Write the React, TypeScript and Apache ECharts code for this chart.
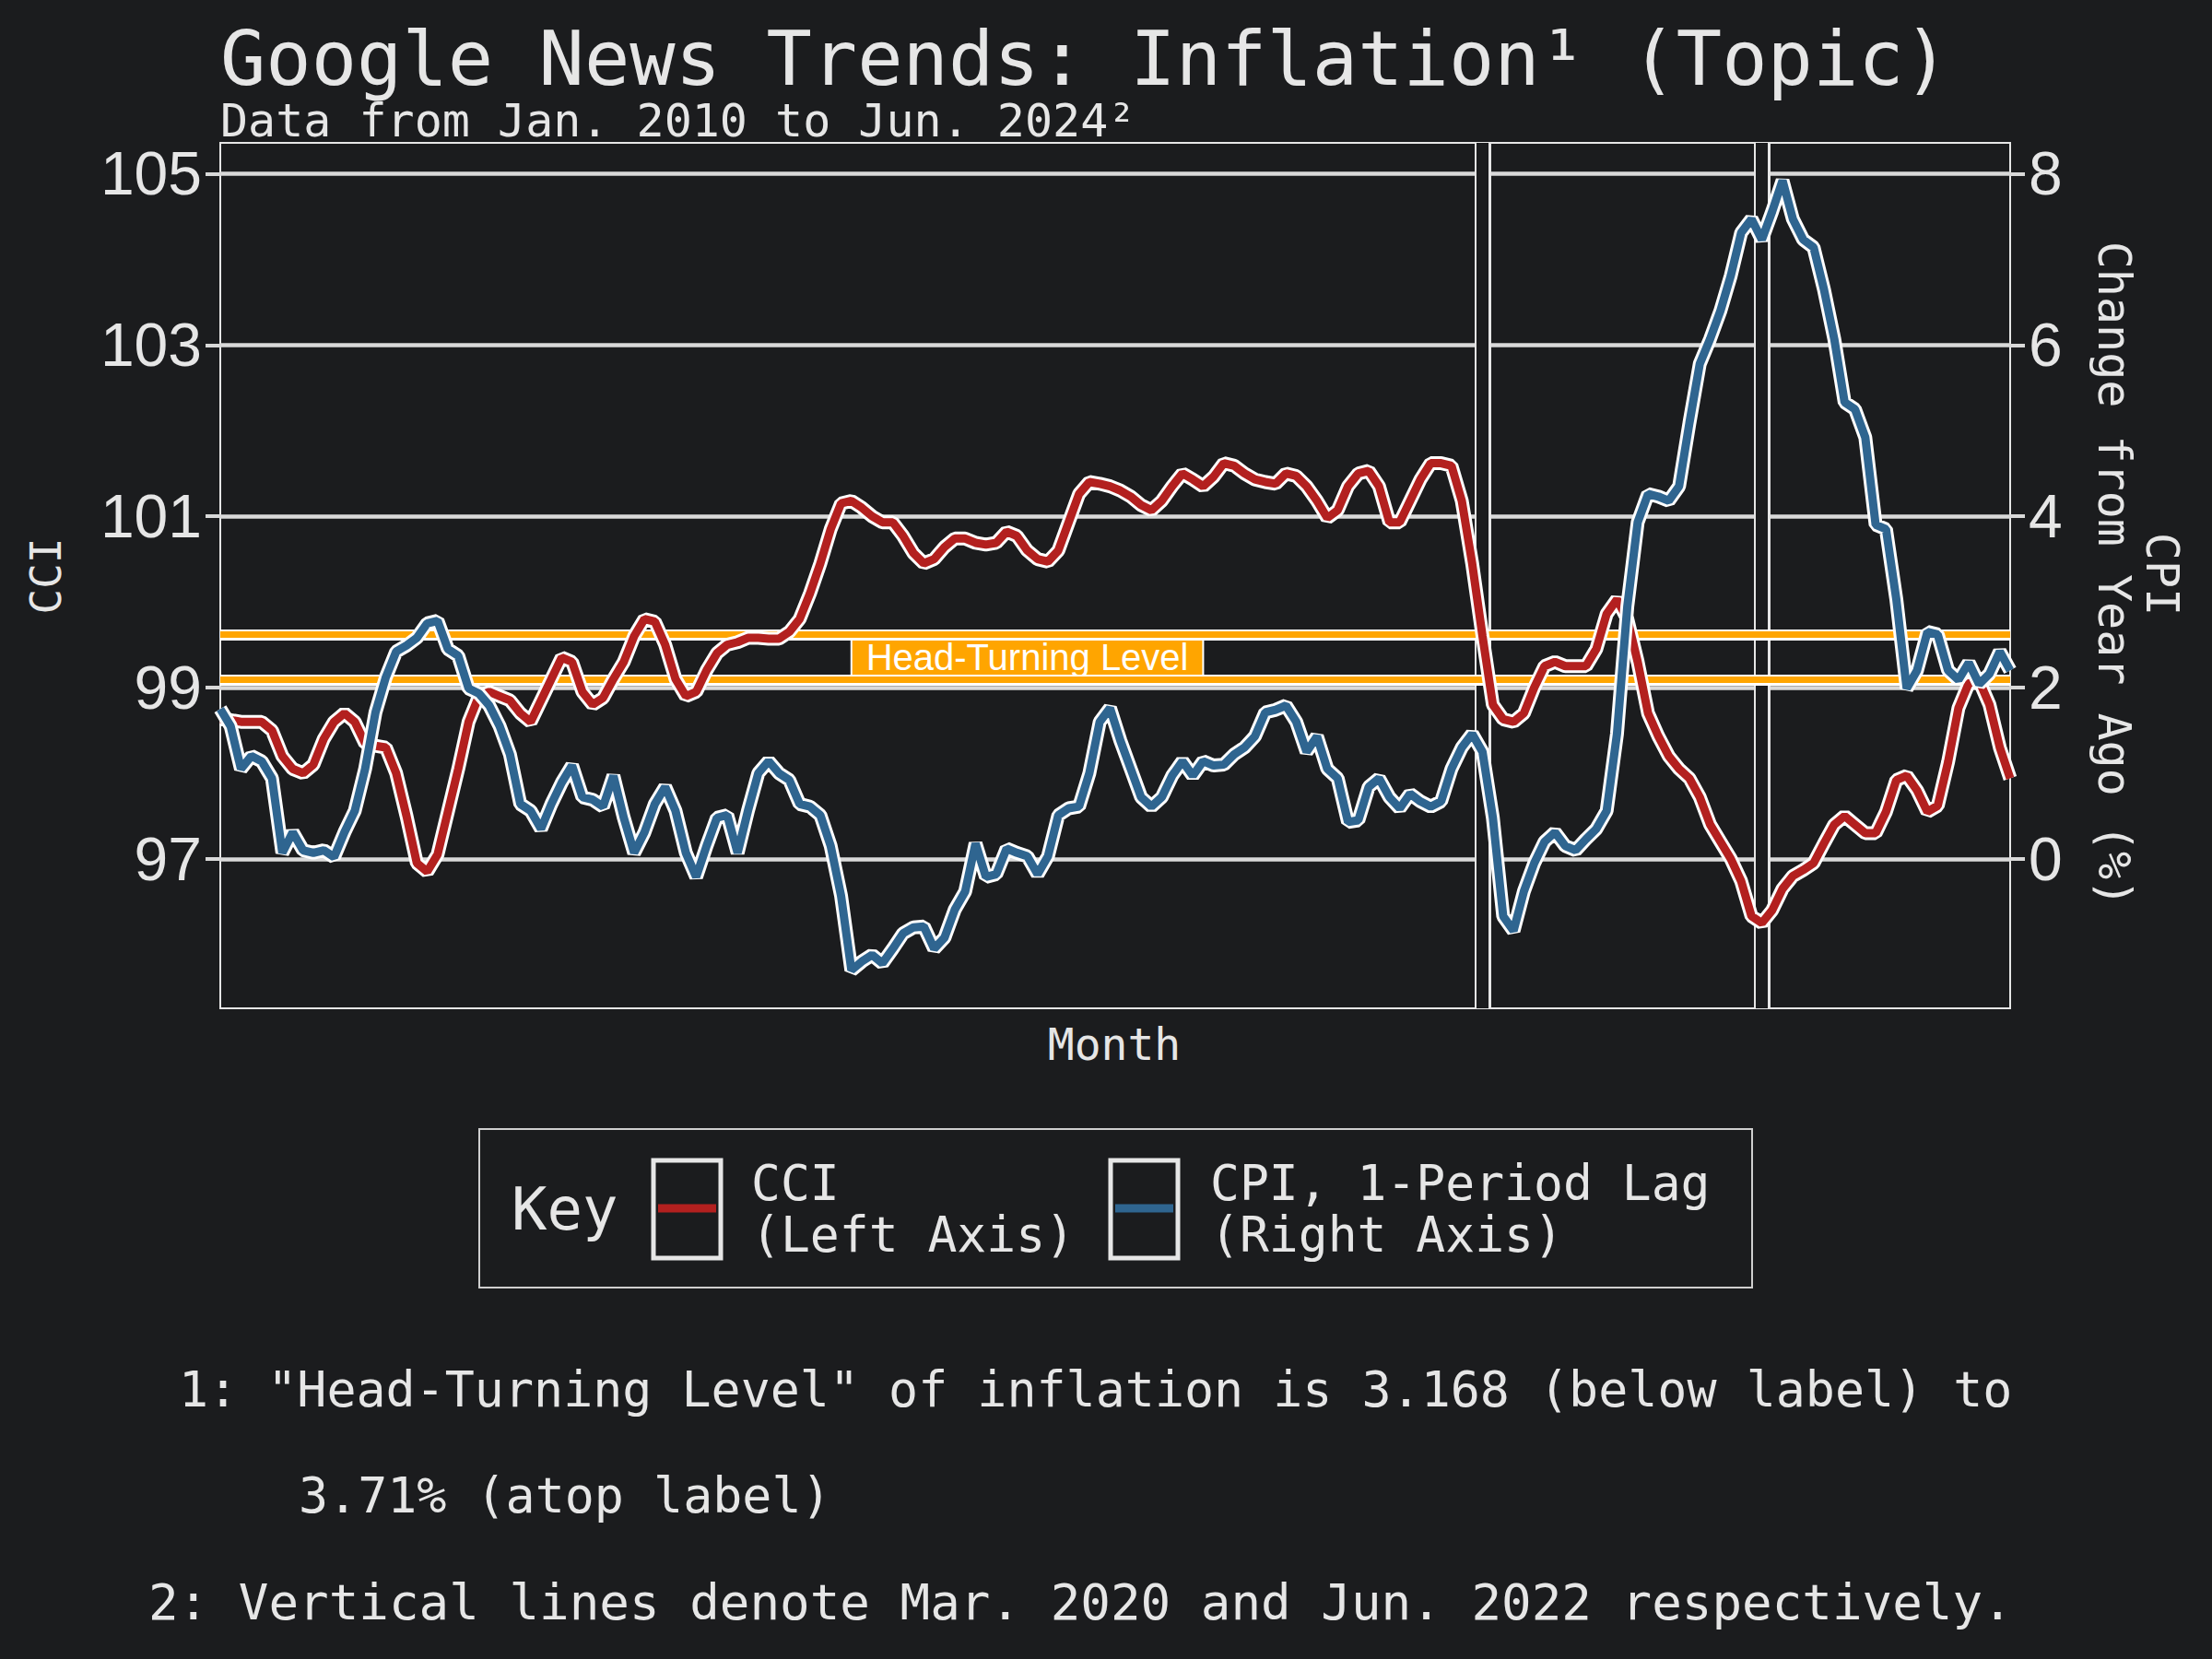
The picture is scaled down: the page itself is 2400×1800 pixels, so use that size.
import * as echarts from "echarts"
import { useEffect, useRef } from "react"

// Monthly, Jan 2010 .. Jun 2024
const months: string[] = []
for (let y = 2010; y <= 2024; y++) {
  for (let m = 1; m <= 12; m++) {
    if (y === 2024 && m > 6) break
    months.push(`${y}-${String(m).padStart(2, "0")}`)
  }
}

const cci = [
  98.63, 98.62, 98.6, 98.6, 98.6, 98.5, 98.2, 98.05, 98.0, 98.1, 98.4, 98.6,
  98.7, 98.6, 98.35, 98.32, 98.3, 98.0, 97.5, 96.95, 96.85, 97.05, 97.55, 98.05,
  98.6, 98.9, 98.95, 98.9, 98.85, 98.7, 98.6, 98.85, 99.1, 99.35, 99.3, 98.95,
  98.8, 98.88, 99.1, 99.3, 99.6, 99.8, 99.77, 99.5, 99.1, 98.9, 98.95, 99.2,
  99.4, 99.5, 99.53, 99.58, 99.58, 99.57, 99.57, 99.65, 99.8, 100.1, 100.45, 100.85,
  101.15, 101.18, 101.1, 101.0, 100.93, 100.93, 100.77, 100.57, 100.45, 100.5, 100.64, 100.74,
  100.74, 100.69, 100.67, 100.69, 100.82, 100.77, 100.6, 100.5, 100.47, 100.6, 100.93, 101.26,
  101.4, 101.38, 101.35, 101.3, 101.23, 101.13, 101.07, 101.18, 101.35, 101.5, 101.43, 101.35,
  101.46, 101.62, 101.59, 101.5, 101.43, 101.4, 101.38, 101.5, 101.47, 101.35, 101.18, 100.98,
  101.07, 101.35, 101.5, 101.53, 101.35, 100.93, 100.93, 101.18, 101.43, 101.62, 101.62, 101.59,
  101.18, 100.45, 99.6, 98.8, 98.63, 98.6, 98.7, 99.0, 99.25, 99.3, 99.25, 99.25,
  99.25, 99.45, 99.86, 100.03, 99.8, 99.3, 98.7, 98.43, 98.2, 98.05, 97.94, 97.72,
  97.4, 97.2, 97.0, 96.74, 96.33, 96.25, 96.4, 96.65, 96.8, 96.87, 96.95, 97.18,
  97.4, 97.5, 97.4, 97.3, 97.3, 97.55, 97.92, 97.97, 97.8, 97.55, 97.62, 98.13,
  98.76, 99.05, 99.08, 98.8, 98.3, 97.94,
]

const cpiLag = [
  1.75, 1.55, 1.05, 1.2, 1.14, 0.94, 0.07, 0.31, 0.1, 0.07, 0.1, 0.02,
  0.31, 0.56, 1.05, 1.71, 2.12, 2.42, 2.49, 2.58, 2.75, 2.78, 2.45, 2.37,
  1.99, 1.93, 1.79, 1.55, 1.22, 0.64, 0.56, 0.35, 0.64, 0.89, 1.09, 0.72,
  0.69, 0.61, 0.97, 0.48, 0.07, 0.31, 0.64, 0.84, 0.56, 0.07, -0.21, 0.15,
  0.48, 0.51, 0.07, 0.56, 1.0, 1.14, 1.0, 0.92, 0.64, 0.61, 0.51, 0.15,
  -0.43, -1.3, -1.2, -1.12, -1.22, -1.05, -0.87, -0.8, -0.79, -1.05, -0.92, -0.59,
  -0.38, 0.18, -0.21, -0.18, 0.12, 0.07, 0.03, -0.18, 0.03, 0.51, 0.59, 0.61,
  1.0, 1.6, 1.76, 1.38, 1.05, 0.72, 0.61, 0.72, 0.97, 1.14, 0.97, 1.14,
  1.09, 1.1, 1.22, 1.3, 1.43, 1.71, 1.74, 1.79, 1.6, 1.25, 1.43, 1.05,
  0.94, 0.43, 0.45, 0.84, 0.94, 0.72, 0.59, 0.76, 0.67, 0.61, 0.67, 1.05,
  1.3, 1.46, 1.25, 0.48, -0.67, -0.84, -0.38, -0.05, 0.2, 0.31, 0.15, 0.1,
  0.23, 0.35, 0.56, 1.46, 2.95, 3.93, 4.26, 4.23, 4.18, 4.35, 5.09, 5.78,
  6.07, 6.4, 6.81, 7.31, 7.47, 7.23, 7.56, 7.92, 7.47, 7.23, 7.14, 6.65,
  6.07, 5.33, 5.25, 4.92, 3.9, 3.85, 3.03, 1.99, 2.2, 2.65, 2.62, 2.2,
  2.09, 2.29, 2.04, 2.16, 2.42, 2.2,
]

const cciTicks = [97, 99, 101, 103, 105]
const cpiTicks = [0, 2, 4, 6, 8]
const bandLow = 99.09
const bandHigh = 99.62
const eventMonths = ["2020-03", "2022-06"]
const bandLabelFrom = "2015-02"
const bandLabelTo = "2017-12"

const BG = "#1b1c1e"
const FG = "#e6e6e6"
const MONO = "'DejaVu Sans Mono', monospace"
const SANS = "'Liberation Sans', Arial, sans-serif"
const RED = "#b3201f"
const BLUE = "#2f6590"
const ORANGE = "#ffa500"

const lineMark = (data: any[], color: string, width: number) => ({
  silent: true,
  symbol: "none",
  label: { show: false },
  lineStyle: { color, width, type: "solid" },
  data,
})

export default function App() {
  const ref = useRef<HTMLDivElement>(null)

  useEffect(() => {
    document.body.style.margin = "0"
    if (!ref.current) return
    const chart = echarts.init(ref.current, undefined, { renderer: "svg" })

    const empty = (z: number, markLine: any, extra: any = {}) => ({
      type: "line",
      data: [],
      z,
      silent: true,
      markLine,
      ...extra,
    })

    const option: any = {
      animation: false,
      backgroundColor: BG,
      grid: { left: 239, top: 155, right: 219, bottom: 706, show: true, borderColor: FG, borderWidth: 2, backgroundColor: "transparent" },
      xAxis: {
        type: "category",
        data: months,
        boundaryGap: false,
        axisLine: { show: false },
        axisTick: { show: false },
        axisLabel: { show: false },
        splitLine: { show: false },
      },
      yAxis: [
        {
          type: "value",
          min: 95.255,
          max: 105.36,
          axisLine: { show: false },
          axisTick: { show: true, length: 16, customValues: cciTicks, lineStyle: { color: "#d9d9d9", width: 4 } },
          axisLabel: { customValues: cciTicks, color: FG, fontSize: 66, fontFamily: SANS, margin: 20 },
          splitLine: { show: false },
        },
        {
          type: "value",
          min: -1.745,
          max: 8.36,
          position: "right",
          axisLine: { show: false },
          axisTick: { show: true, length: 16, customValues: cpiTicks, lineStyle: { color: "#d9d9d9", width: 4 } },
          axisLabel: { customValues: cpiTicks, color: FG, fontSize: 66, fontFamily: SANS, margin: 20 },
          splitLine: { show: false },
        },
      ],
      series: [
        empty(1, lineMark(cciTicks.map((v) => ({ yAxis: v })), "#d9d9d9", 4.5)),
        empty(2, lineMark(eventMonths.map((m) => ({ xAxis: m })), FG, 18)),
        empty(3, lineMark(eventMonths.map((m) => ({ xAxis: m })), BG, 13)),
        empty(4, lineMark([{ yAxis: bandLow }, { yAxis: bandHigh }], "#ffffff", 12)),
        empty(5, lineMark([{ yAxis: bandLow }, { yAxis: bandHigh }], ORANGE, 7)),
        empty(6, undefined, {
          markArea: {
            silent: true,
            itemStyle: { color: ORANGE, borderColor: "#ffffff", borderWidth: 2 },
            label: { show: true, position: "inside", color: "#ffffff", fontSize: 40, fontFamily: SANS },
            data: [[{ xAxis: bandLabelFrom, yAxis: bandLow, name: "Head-Turning Level" }, { xAxis: bandLabelTo, yAxis: bandHigh }]],
          },
        }),
        { type: "line", data: cci, yAxisIndex: 0, z: 7, showSymbol: false, lineStyle: { color: "#ffffff", width: 15 } },
        { type: "line", data: cci, yAxisIndex: 0, z: 8, showSymbol: false, lineStyle: { color: RED, width: 9 } },
        { type: "line", data: cpiLag, yAxisIndex: 1, z: 9, showSymbol: false, lineStyle: { color: "#ffffff", width: 15 } },
        { type: "line", data: cpiLag, yAxisIndex: 1, z: 10, showSymbol: false, lineStyle: { color: BLUE, width: 9 } },
      ],
      graphic: [
        { type: "text", left: 239, top: 22, style: { text: "Google News Trends: Inflation¹ (Topic)", fill: FG, fontSize: 82, fontFamily: MONO } },
        { type: "text", left: 239, top: 106, style: { text: "Data from Jan. 2010 to Jun. 2024²", fill: FG, fontSize: 50, fontFamily: MONO } },
        { type: "text", x: 50, y: 625, rotation: Math.PI / 2, style: { text: "CCI", fill: FG, fontSize: 46, fontFamily: MONO, align: "center", verticalAlign: "middle" } },
        { type: "text", x: 2320, y: 623, rotation: -Math.PI / 2, style: { text: "CPI\nChange from Year Ago (%)", fill: FG, fontSize: 50, lineHeight: 52, fontFamily: MONO, align: "center", verticalAlign: "middle" } },
        { type: "text", x: 1209, y: 1133, style: { text: "Month", fill: FG, fontSize: 48, fontFamily: MONO, align: "center", verticalAlign: "middle" } },
        // legend
        { type: "rect", shape: { x: 520, y: 1225, width: 1381, height: 172 }, style: { fill: "none", stroke: "#cfcfcf", lineWidth: 2 } },
        { type: "text", x: 555, y: 1312, style: { text: "Key", fill: FG, fontSize: 64, fontFamily: MONO, verticalAlign: "middle" } },
        { type: "rect", shape: { x: 709, y: 1259, width: 73, height: 106 }, style: { fill: "none", stroke: FG, lineWidth: 5 } },
        { type: "line", shape: { x1: 714, y1: 1311, x2: 777, y2: 1311 }, style: { stroke: RED, lineWidth: 9 } },
        { type: "text", x: 815, y: 1311, style: { text: "CCI\n(Left Axis)", fill: FG, fontSize: 53, lineHeight: 56, fontFamily: MONO, verticalAlign: "middle" } },
        { type: "rect", shape: { x: 1205, y: 1259, width: 73, height: 106 }, style: { fill: "none", stroke: FG, lineWidth: 5 } },
        { type: "line", shape: { x1: 1210, y1: 1311, x2: 1273, y2: 1311 }, style: { stroke: BLUE, lineWidth: 9 } },
        { type: "text", x: 1313, y: 1311, style: { text: "CPI, 1-Period Lag\n(Right Axis)", fill: FG, fontSize: 53, lineHeight: 56, fontFamily: MONO, verticalAlign: "middle" } },
        // footnotes
        { type: "text", x: 194, y: 1508, style: { text: '1: "Head-Turning Level" of inflation is 3.168 (below label) to', fill: FG, fontSize: 53.3, fontFamily: MONO, verticalAlign: "middle" } },
        { type: "text", x: 324, y: 1623, style: { text: "3.71% (atop label)", fill: FG, fontSize: 53.3, fontFamily: MONO, verticalAlign: "middle" } },
        { type: "text", x: 161, y: 1738, style: { text: "2: Vertical lines denote Mar. 2020 and Jun. 2022 respectively.", fill: FG, fontSize: 54.2, fontFamily: MONO, verticalAlign: "middle" } },
      ],
    }

    chart.setOption(option)
    return () => chart.dispose()
  }, [])

  return <div ref={ref} style={{ width: 2400, height: 1800 }} />
}
